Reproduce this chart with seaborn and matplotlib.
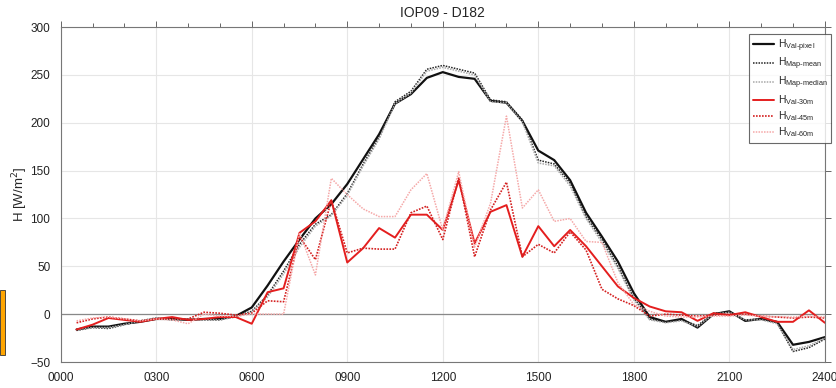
import numpy as np
import pandas as pd
import matplotlib
matplotlib.use("Agg")
import matplotlib.pyplot as plt
from matplotlib.patches import Rectangle
import seaborn as sns

# half-hourly time axis (hours)
hours = np.arange(1, 49) * 0.5

val_pixel = [-16, -13, -13, -10, -8, -5, -5, -6, -5, -5, -2, 7,
             30, 55, 78, 100, 115, 136, 162, 188, 220, 230, 247, 253,
             248, 246, 223, 221, 202, 171, 161, 140, 106, 81, 55, 22,
             -3, -8, -5, -14, 0, 3, -7, -5, -8, -32, -29, -24]
map_mean = [-17, -14, -15, -11, -7, -4, -6, -5, -6, -6, -2, 3,
            20, 45, 73, 94, 104, 126, 157, 185, 222, 233, 256, 260,
            256, 252, 224, 222, 203, 161, 157, 137, 102, 78, 50, 17,
            -5, -8, -6, -12, 1, 2, -6, -5, -9, -39, -35, -26]
map_median = [-16, -14, -14, -11, -7, -4, -6, -5, -6, -6, -3, 2,
              18, 42, 70, 92, 103, 124, 155, 183, 220, 231, 254, 258,
              254, 250, 222, 221, 201, 158, 155, 134, 100, 75, 48, 15,
              -6, -9, -7, -13, 0, 2, -6, -6, -10, -37, -33, -25]
val_30m = [-16, -11, -4, -6, -8, -5, -3, -6, -5, -3, -3, -10,
           23, 27, 85, 97, 119, 54, 69, 90, 80, 104, 104, 88,
           140, 74, 107, 114, 60, 92, 71, 88, 71, 50, 29, 17,
           8, 3, 2, -7, 1, -1, 2, -3, -8, -8, 4, -9]
val_45m = [-9, -5, -3, -5, -7, -5, -5, -5, 2, 1, -1, 1,
           14, 13, 81, 57, 119, 64, 69, 68, 68, 106, 113, 78,
           143, 60, 109, 138, 60, 73, 64, 86, 67, 26, 16, 9,
           -2, 0, -1, -2, -1, 0, 0, -2, -3, -4, -3, -4]
val_60m = [-7, -4, -3, -5, -7, -5, -6, -10, 0, -2, -2, 0,
           0, 0, 85, 41, 142, 125, 110, 102, 102, 130, 147, 88,
           149, 70, 116, 207, 111, 130, 97, 100, 76, 75, 33, 10,
           3, -2, -3, -3, -2, -2, -1, -2, -3, -3, -2, -3]

tick_hours = [0, 3, 6, 9, 12, 15, 18, 21, 24]
tick_labels = ['0000', '0300', '0600', '0900', '1200', '1500', '1800', '2100', '2400']

dots = (0, (1, 0.8))
series = [
    (r'H$_{\mathregular{Val\text{-}pixel}}$', val_pixel, '#111111', '-', 1.6),
    (r'H$_{\mathregular{Map\text{-}mean}}$', map_mean, '#222222', dots, 1.1),
    (r'H$_{\mathregular{Map\text{-}median}}$', map_median, '#a8a8a8', dots, 1.1),
    (r'H$_{\mathregular{Val\text{-}30m}}$', val_30m, '#e41e1e', '-', 1.4),
    (r'H$_{\mathregular{Val\text{-}45m}}$', val_45m, '#d42020', dots, 1.2),
    (r'H$_{\mathregular{Val\text{-}60m}}$', val_60m, '#f5a8a8', dots, 1.1),
]

sns.set_style("white")
plt.rcParams['font.family'] = ['Liberation Sans', 'DejaVu Sans']

fig = plt.figure(figsize=(8.37, 3.88), dpi=100)
ax = fig.add_axes([0.0725, 0.067, 0.913, 0.863])

ax.axhline(0, color='#888888', lw=0.9, zorder=1)
for label, vals, color, ls, lw in series:
    sns.lineplot(x=hours, y=vals, ax=ax, color=color, linestyle=ls, lw=lw, label=label)

ax.set_xlim(0, 24)
ax.set_ylim(-50, 300)
ax.set_xticks(tick_hours)
ax.set_xticklabels(tick_labels)
ax.set_xticks(np.arange(0, 25, 1), minor=True)
ax.set_yticks(np.arange(-50, 301, 50))
ax.grid(True, which='major', color='#e6e6e6', lw=0.8)
ax.tick_params(axis='both', which='both', direction='out', top=True, right=True,
               length=4, width=0.7, color='#666666', labelsize=8.5, labelcolor='#222222')
ax.tick_params(axis='both', which='minor', length=3)
for sp in ax.spines.values():
    sp.set_color('#777777')
    sp.set_linewidth(0.8)

ax.set_title('IOP09 - D182', fontsize=10, pad=7)
ax.set_ylabel('H [W/m$^2$]', fontsize=9.5, labelpad=0)

leg = ax.legend(loc='upper right', bbox_to_anchor=(0.9995, 0.927), bbox_transform=fig.transFigure,
                fontsize=7.5, frameon=True, fancybox=False, handlelength=2.0,
                labelspacing=0.22, borderpad=0.35, handletextpad=0.4)
leg.get_frame().set_edgecolor('#444444')
leg.get_frame().set_linewidth(0.8)

# orange marker at the left edge of the screenshot
fig.patches.append(Rectangle((0, 0.085), 0.006, 0.168, transform=fig.transFigure,
                             facecolor='#ffa500', edgecolor='#333333', lw=0.6))

fig.savefig('out.png', dpi=100)
